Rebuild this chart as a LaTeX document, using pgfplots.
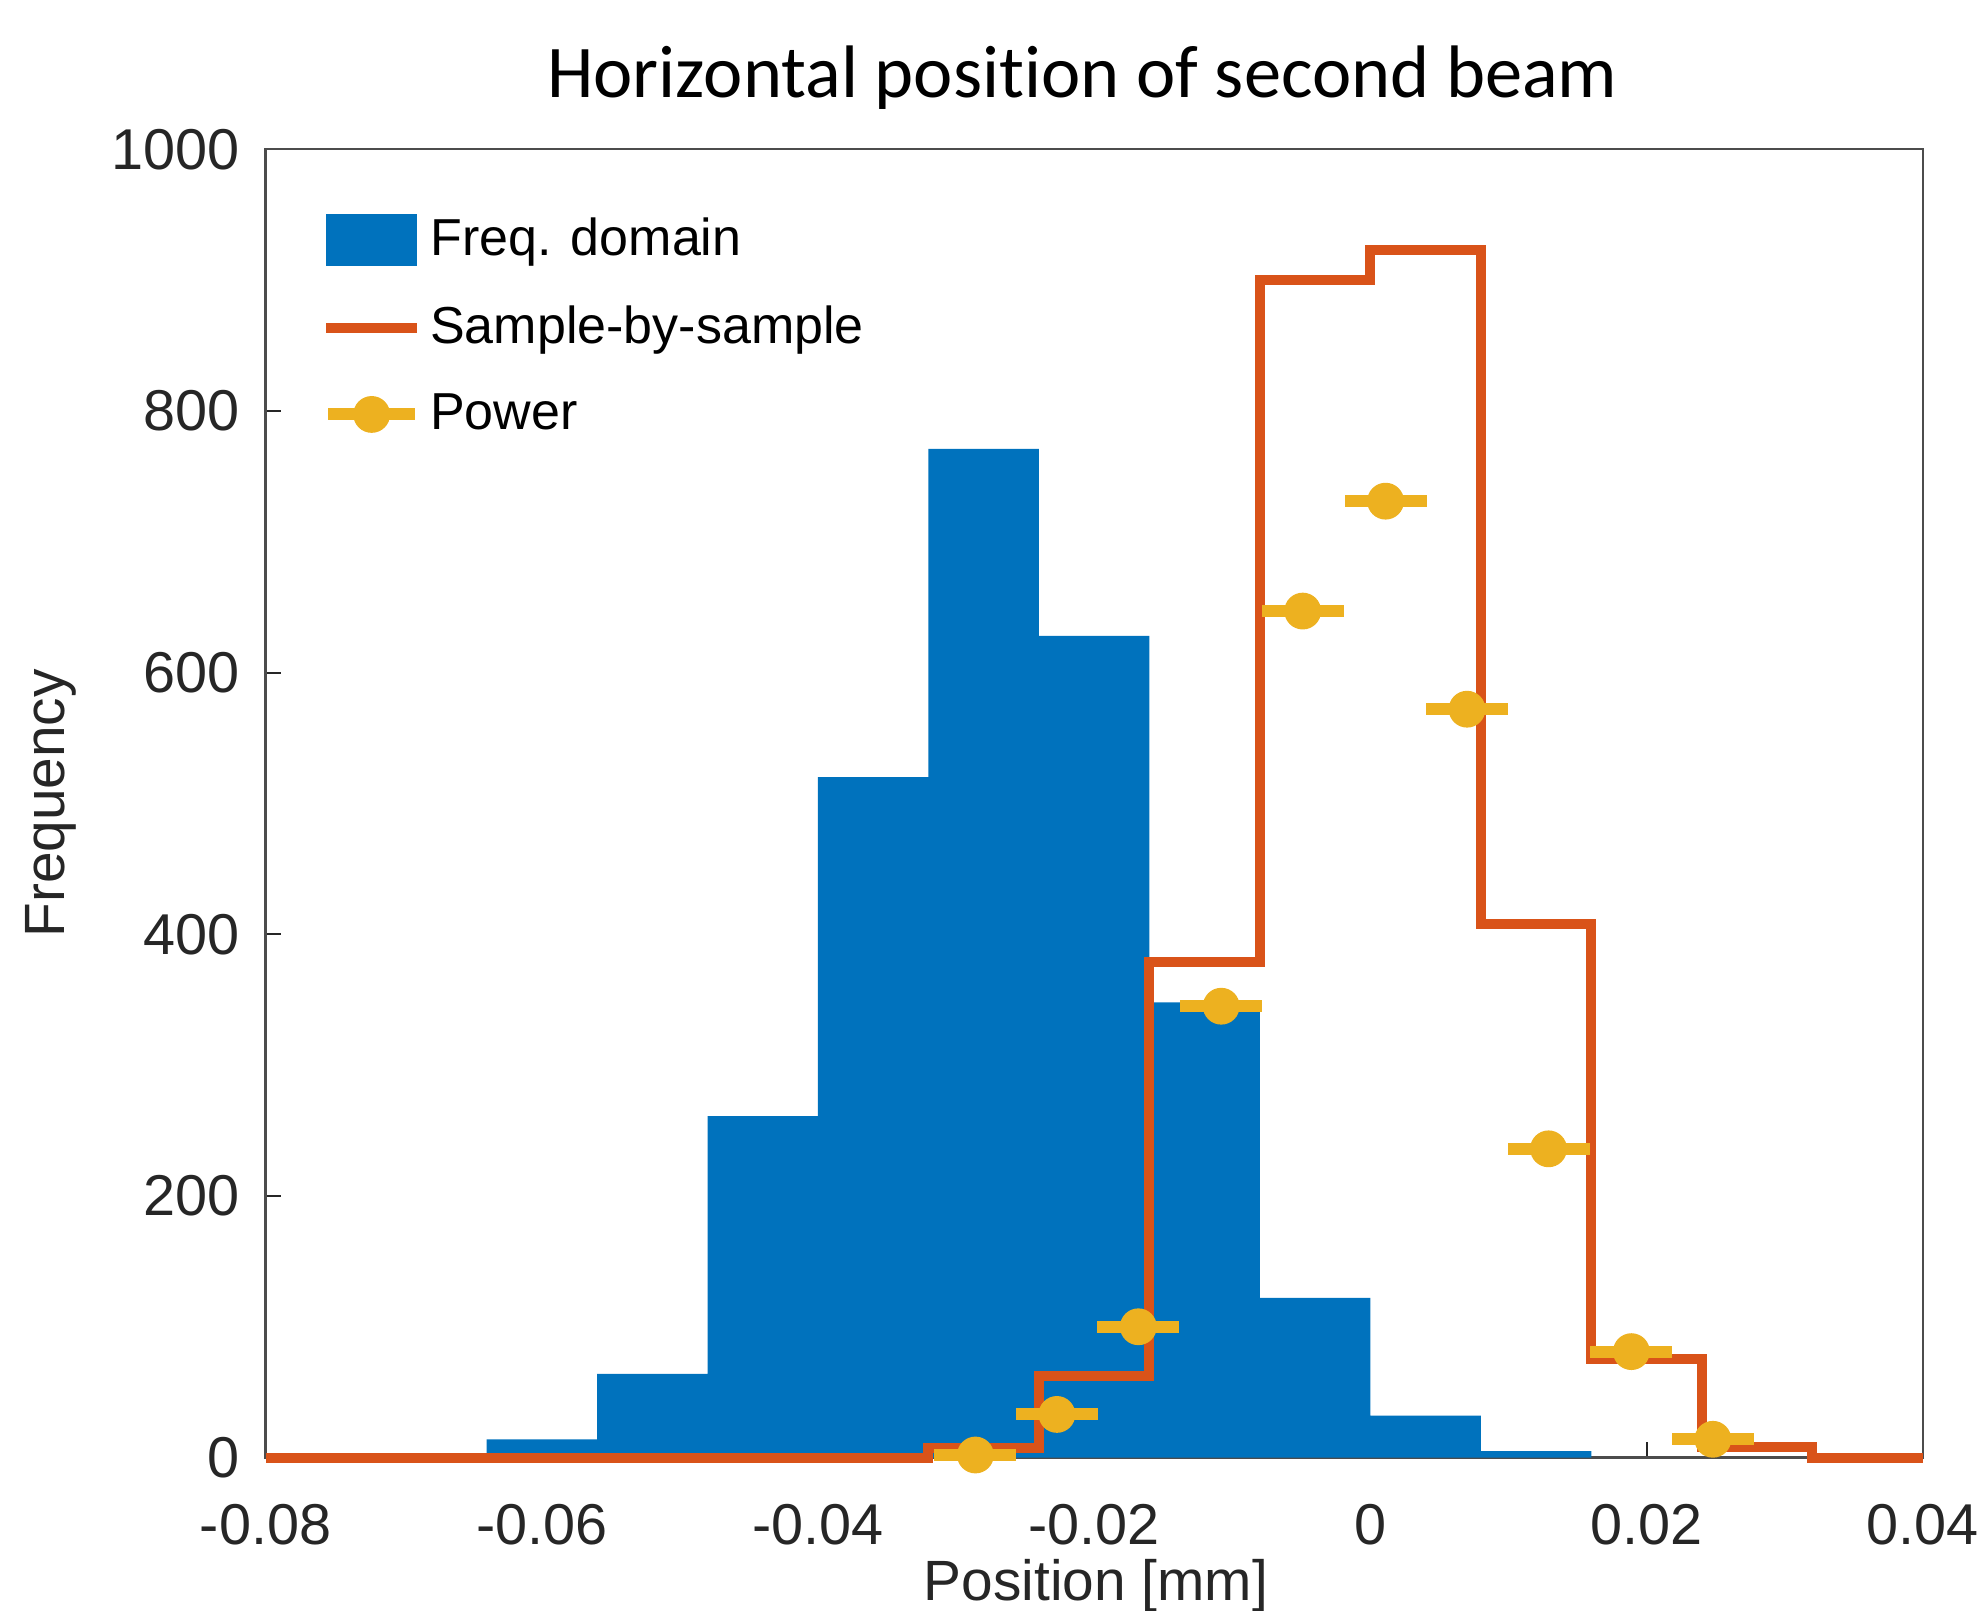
\documentclass[border=0pt]{standalone}
\usepackage{fontspec}
\setmainfont{Liberation Sans}
\newfontfamily\titlefont[Ligatures=NoCommon]{Carlito}
\usepackage{pgfplots}
\pgfplotsset{compat=1.18}
\definecolor{mblue}{rgb}{0,0.447,0.741}
\definecolor{morange}{rgb}{0.85,0.325,0.098}
\definecolor{myellow}{rgb}{0.929,0.694,0.125}
\definecolor{mgray}{rgb}{0.15,0.15,0.15}
\begin{document}
\begin{tikzpicture}
\begin{axis}[
  name=ax,
  scale only axis,
  width=414.3pt, height=327.1pt,
  xmin=-0.08, xmax=0.04, ymin=0, ymax=1000,
  xtick={-0.08,-0.06,-0.04,-0.02,0,0.02,0.04},
  ytick={0,200,400,600,800,1000},
  scaled x ticks=false,
  /pgf/number format/assume math mode=true,
  /pgf/number format/fixed,
  /pgf/number format/precision=2,
  /pgf/number format/1000 sep={},
  xticklabel style={font=\fontsize{14.4}{16}\selectfont, text=mgray, yshift=-8.2pt},
  yticklabel style={font=\fontsize{14.4}{16}\selectfont, text=mgray, xshift=-3pt},
  tick align=inside,
  xtick pos=bottom, ytick pos=left,
  major tick length=3.8pt,
  tick style={mgray, line width=0.5pt},
  axis line style={black!70, line width=0.6pt},
  clip=false,
  xlabel={Position [mm]},
  ylabel={Frequency},
  every axis x label/.style={at={(axis description cs:0.501,-0.098)}, anchor=center, font=\fontsize{14.2}{16}\selectfont, text=mgray},
  every axis y label/.style={at={(axis description cs:-0.1296,0.5)}, rotate=90, anchor=center, font=\fontsize{14.2}{16}\selectfont, text=mgray},
  title={\titlefont Horizontal position of second beam},
  every axis title/.style={at={(axis description cs:0.493,1.055)}, anchor=center, font=\fontsize{18.6}{22}\selectfont},
  legend style={at={(axis description cs:0.033,0.954)}, anchor=north west, draw=none, fill=none,
    font=\fontsize{13}{15}\selectfont, row sep=7pt, inner sep=0pt},
  legend cell align=left,
]
\addplot[const plot mark left, fill=mblue, draw=none,
  legend image code/.code={\fill[mblue] (0pt,-6.6pt) rectangle (22.8pt,6.6pt);}]
  coordinates {(-0.064,14) (-0.056,64) (-0.048,261) (-0.040,520) (-0.032,771) (-0.024,628)
  (-0.016,348) (-0.008,122) (0,32) (0.008,5) (0.016,5)} \closedcycle;
\addlegendentry{Freq. domain}
\addplot[const plot mark left, morange, line width=2.5pt, line join=miter,
  legend image code/.code={\draw[morange, line width=2.5pt] (0pt,0pt) -- (22.8pt,0pt);}]
  coordinates {(-0.08,0) (-0.032,7) (-0.024,62) (-0.016,379) (-0.008,900) (0,923)
  (0.008,408) (0.016,75) (0.024,8) (0.032,0) (0.04,0)};
\addlegendentry{Sample-by-sample}
\addplot[only marks, mark=*, mark size=4.4pt, myellow, mark options={fill=myellow, draw=myellow},
  legend image code/.code={\draw[myellow, line width=3pt] (0.5pt,0pt) -- (22.3pt,0pt); \fill[myellow] (11.4pt,0pt) circle (4.4pt);},
  error bars/.cd, x dir=both, x explicit, error mark=none,
  error bar style={line width=3pt, myellow}]
  coordinates {(-0.0286,2) +- (0.00297,0) (-0.0227,33) +- (0.00297,0) (-0.0168,100) +- (0.00297,0)
  (-0.0108,345) +- (0.00297,0) (-0.0049,647) +- (0.00297,0) (0.0011,731) +- (0.00297,0)
  (0.0070,572) +- (0.00297,0) (0.0129,236) +- (0.00297,0) (0.0189,81) +- (0.00297,0)
  (0.0248,14) +- (0.00297,0)};
\addlegendentry{Power}
\end{axis}
\pgfresetboundingbox
\path[use as bounding box] ([xshift=-66.4pt,yshift=-38.1pt]ax.south west) rectangle ([xshift=429.1pt,yshift=364.4pt]ax.south west);
\end{tikzpicture}
\end{document}
